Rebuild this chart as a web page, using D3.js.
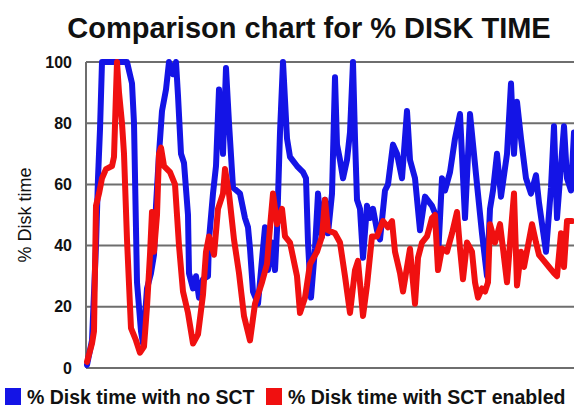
<!DOCTYPE html>
<html><head><meta charset="utf-8">
<script src="https://cdn.jsdelivr.net/npm/d3@7"></script>
<style>body{margin:0;background:#fff;}svg{display:block;font-family:"Liberation Sans",Arial,sans-serif;}</style>
</head><body><div id="chart"></div>
<script>
const title = "Comparison chart for % DISK TIME";
const yLabel = "% Disk time";
const yTicks = [0, 20, 40, 60, 80, 100];
const seriesNames = ["% Disk time with no SCT", "% Disk time with SCT enabled"];
const seriesColors = ["#1414e6", "#f01010"];

// sample positions (time) and % disk time readings
const blueT = [1,6,10,12,14,16,41,46,48,51,55,57,59,61,65,68,70,73,76,80,83,87,90,92,95,98,102,103,107,110,113,117,122,123,127,130,133,137,140,143,147,154,159,162,164,167,172,177,179,182,186,189,191,194,197,201,204,211,217,220,222,225,229,232,236,239,242,246,249,251,254,257,261,264,267,269,271,274,277,281,284,287,291,294,299,302,307,311,316,321,324,329,334,339,346,351,352,356,359,364,369,374,379,384,391,396,401,404,407,411,415,421,425,428,431,435,440,445,450,453,460,465,468,471,478,481,485,488];
const blueV = [1,9,40,62,78,100,100,93,80,28,12,8,17,26,31,37,53,70,84,91,100,96,100,89,70,67,50,31,26,30,23,29,30,42,57,66,91,70,98,80,59,57,49,46,39,25,21,39,46,32,41,32,45,77,100,75,69,66,64,62,41,23,39,57,43,55,44,57,95,73,68,62,68,77,100,75,55,52,36,53,49,52,45,42,58,60,73,70,62,84,68,62,45,56,53,49,36,62,58,64,75,83,49,83,60,44,30,52,58,70,56,70,93,70,87,75,62,57,63,54,38,59,79,49,79,62,58,77];
const redT = [1,6,8,10,13,16,20,26,28,30,31,33,36,38,41,45,50,54,58,61,64,66,68,71,73,75,78,84,89,93,97,102,107,112,117,120,123,128,132,137,139,143,148,153,158,164,169,176,181,184,187,191,196,199,204,211,214,219,224,231,236,239,242,249,254,259,264,269,272,277,281,286,291,297,302,306,309,314,317,321,324,327,329,332,336,341,346,349,352,356,361,366,371,374,377,381,386,389,392,396,399,402,404,409,414,417,421,425,428,431,435,438,442,446,450,453,458,463,468,471,475,478,481,486];
const redV = [2,8,12,53,57,62,65,66,69,90,100,90,80,70,42,13,9,5,7,20,37,51,38,50,70,72,66,64,60,40,25,18,8,11,24,38,43,37,52,57,65,57,42,31,17,9,21,28,34,46,57,47,52,43,41,30,18,23,34,38,43,55,45,44,41,30,18,32,35,17,27,43,43,48,46,48,38,31,25,33,39,28,21,36,41,43,49,50,32,39,38,44,51,39,29,41,38,28,23,26,25,28,47,41,47,39,28,45,57,27,38,33,40,47,41,37,35,33,31,30,44,33,48,48];

const W = 574, H = 415;
const m = {left: 86, right: 0, top: 62, bottom: 47};
const svg = d3.select("#chart").append("svg").attr("width", W).attr("height", H);

const x = d3.scaleLinear().domain([0, 488]).range([m.left, W - m.right]);
const y = d3.scaleLinear().domain([0, 100]).range([H - m.bottom, m.top]);

svg.append("text").attr("x", 309).attr("y", 38).attr("text-anchor", "middle")
  .attr("font-size", 29).attr("font-weight", "bold").attr("fill", "#111").text(title);

// grid
svg.append("g").selectAll("line").data(yTicks).join("line")
  .attr("x1", m.left).attr("x2", W).attr("y1", d => y(d)).attr("y2", d => y(d))
  .attr("stroke", "#6e6e6e").attr("stroke-width", 2);
svg.append("line").attr("x1", m.left).attr("x2", m.left).attr("y1", y(100)).attr("y2", y(0))
  .attr("stroke", "#6e6e6e").attr("stroke-width", 2);

// y axis
const yAxis = d3.axisLeft(y).tickValues(yTicks).tickSize(0).tickPadding(14);
const ga = svg.append("g").attr("transform", `translate(${m.left},0)`).call(yAxis);
ga.select(".domain").remove();
ga.selectAll("text").attr("font-size", 16).attr("font-weight", "bold").attr("fill", "#111")
  .attr("font-family", "Liberation Sans, Arial, sans-serif");

svg.append("text").attr("transform", `translate(31,${(y(0)+y(100))/2}) rotate(-90)`)
  .attr("text-anchor", "middle").attr("font-size", 18).attr("fill", "#111").text(yLabel);

const line = d3.line().x(d => x(d[0])).y(d => y(d[1]));
const series = [d3.zip(blueT, blueV), d3.zip(redT, redV)];
svg.append("g").selectAll("path").data(series).join("path")
  .attr("d", line).attr("fill", "none")
  .attr("stroke", (d, i) => seriesColors[i]).attr("stroke-width", 6)
  .attr("stroke-linejoin", "round").attr("stroke-linecap", "round");

// legend
const legX = [5, 266];
const lg = svg.append("g").selectAll("g").data(seriesNames).join("g")
  .attr("transform", (d, i) => `translate(${legX[i]},388)`);
lg.append("rect").attr("width", 16).attr("height", 17).attr("fill", (d, i) => seriesColors[i]);
lg.append("text").attr("x", 22).attr("y", 16).attr("font-size", 19.5).attr("font-weight", "bold")
  .attr("fill", "#111").text(d => d);
</script></body></html>
